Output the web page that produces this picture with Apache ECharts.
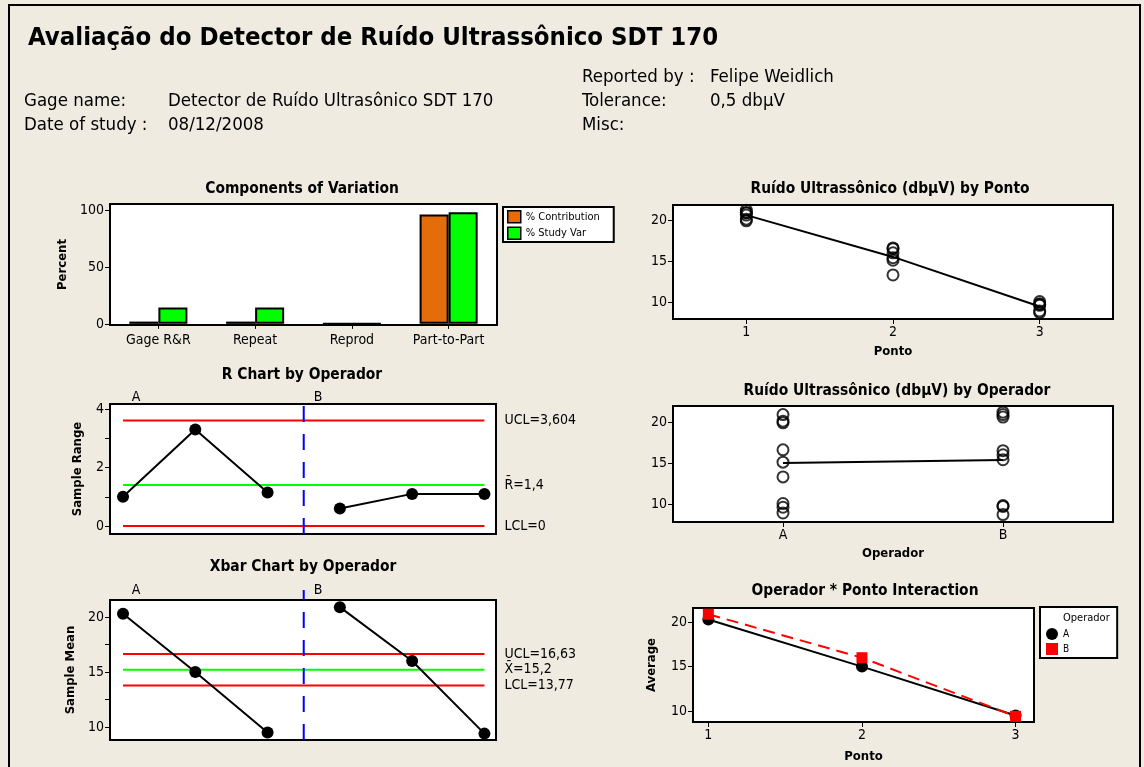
<!DOCTYPE html>
<html>
<head>
<meta charset="utf-8">
<title>Gage R&amp;R - SDT 170</title>
<script src="https://cdn.jsdelivr.net/npm/echarts@6/dist/echarts.min.js"></script>
<style>
  html, body { margin: 0; padding: 0; background: #efebe1; }
  #chart { width: 1144px; height: 767px; }
</style>
</head>
<body>
<div id="chart"></div>
<script>
// Components of Variation
const components = ['Gage R&R', 'Repeat', 'Reprod', 'Part-to-Part']
const pctContribution = [2.0, 2.0, 0, 96]
const pctStudyVar = [14.3, 14.3, 0, 98]

// R / Xbar charts: subgroups 1-3 = operador A, 4-6 = operador B
const samplesA = [1, 2, 3]
const samplesB = [4, 5, 6]
const rangeA = [1.0, 3.3, 1.15]
const rangeB = [0.6, 1.1, 1.1]
const meanA = [20.3, 15.0, 9.5]
const meanB = [20.9, 16.0, 9.4]
const rUCL = 3.604
const rBar = 1.4
const rLCL = 0
const xUCL = 16.63
const xBar = 15.2
const xLCL = 13.77

// readings (3 trials) per ponto for each operador
const pontos = ['1', '2', '3']
const operadores = ['A', 'B']
const readA = [[19.9, 20.1, 20.9], [13.3, 15.1, 16.6], [8.9, 9.6, 10.05]]
const readB = [[20.6, 20.9, 21.2], [15.4, 16.0, 16.5], [8.7, 9.7, 9.8]]
const pontoMeans = [20.6, 15.5, 9.45]
const operadorMeans = [15.0, 15.35]

const FONT = "'DejaVu Sans Condensed', 'DejaVu Sans', sans-serif"
const fmt = v => String(v).replace('.', ',')

const chart = echarts.init(document.getElementById('chart'))

const tick = { show: true, inside: false, length: 5, lineStyle: { color: '#000', width: 1 } }
const label = { color: '#000', fontSize: 14, fontFamily: FONT, margin: 6 }
const axisName = { color: '#000', fontSize: 13, fontWeight: 'bold', fontFamily: FONT }

function valueY(gridIndex, min, max, ticks, labels, name, nameGap) {
  return {
    type: 'value', gridIndex, min, max,
    axisLine: { show: false },
    axisTick: Object.assign({ customValues: ticks }, tick),
    axisLabel: Object.assign({ customValues: labels }, label),
    splitLine: { show: false },
    name, nameLocation: 'middle', nameGap, nameTextStyle: axisName
  }
}

function hiddenX(gridIndex) {
  return { type: 'value', gridIndex, min: 0.82, max: 6.16, show: false }
}

function limitLine(xAxisIndex, yAxisIndex, value, color, text) {
  return {
    type: 'line', xAxisIndex, yAxisIndex, silent: true,
    data: [[1, value], [6, value]],
    symbol: 'none',
    lineStyle: { color, width: 2 },
    endLabel: { show: true, formatter: text, distance: 20, color: '#000', fontSize: 14, fontFamily: FONT }
  }
}

function separator(xAxisIndex, yAxisIndex, y0, y1) {
  return {
    type: 'line', xAxisIndex, yAxisIndex, silent: true, clip: false,
    data: [[3.5, y0], [3.5, y1]],
    symbol: 'none',
    lineStyle: { color: '#0000ff', width: 2, type: [16, 12] }
  }
}

function pointsLine(xAxisIndex, yAxisIndex, xs, ys) {
  return {
    type: 'line', xAxisIndex, yAxisIndex,
    data: xs.map((x, i) => [x, ys[i]]),
    symbol: 'circle', symbolSize: 12,
    itemStyle: { color: '#000' },
    lineStyle: { color: '#000', width: 2 }
  }
}

const hollow = { color: 'rgba(0,0,0,0)', borderColor: '#000', borderWidth: 2 }

const pontoPoints = []
pontos.forEach((p, i) => {
  readA[i].concat(readB[i]).forEach(v => pontoPoints.push([i, v]))
})
const operadorPoints = []
;[readA, readB].forEach((reads, k) => {
  reads.forEach(r => r.forEach(v => operadorPoints.push([k, v])))
})

function text(x, y, str, font, align) {
  return {
    type: 'text', x, y, silent: true, z: 200,
    style: { text: str, font: font + ' ' + FONT, fill: '#000', align: align || 'left', verticalAlign: 'middle' }
  }
}

chart.setOption({
  animation: false,
  backgroundColor: '#efebe1',
  textStyle: { fontFamily: FONT },
  grid: [
    { left: 110, top: 204, width: 387, height: 121 },
    { left: 110, top: 404, width: 386, height: 130 },
    { left: 110, top: 600, width: 386, height: 140 },
    { left: 673, top: 205, width: 440, height: 114 },
    { left: 673, top: 406, width: 440, height: 116 },
    { left: 693, top: 608, width: 341, height: 114 }
  ].map(g => Object.assign({
    show: true, backgroundColor: '#fff', borderColor: '#000', borderWidth: 2,
    containLabel: false, outerBoundsMode: 'none'
  }, g)),
  xAxis: [
    {
      type: 'category', gridIndex: 0, data: components,
      axisLine: { show: false },
      axisTick: Object.assign({ alignWithLabel: true }, tick),
      axisLabel: Object.assign({}, label, { margin: 8 })
    },
    hiddenX(1),
    hiddenX(2),
    {
      type: 'category', gridIndex: 3, data: pontos, boundaryGap: true,
      axisLine: { show: false },
      axisTick: Object.assign({ alignWithLabel: true }, tick),
      axisLabel: label,
      name: 'Ponto', nameLocation: 'middle', nameGap: 26, nameTextStyle: axisName
    },
    {
      type: 'category', gridIndex: 4, data: operadores, boundaryGap: true,
      axisLine: { show: false },
      axisTick: Object.assign({ alignWithLabel: true }, tick),
      axisLabel: label,
      name: 'Operador', nameLocation: 'middle', nameGap: 25, nameTextStyle: axisName
    },
    {
      type: 'value', gridIndex: 5, min: 0.9, max: 3.12,
      axisLine: { show: false },
      axisTick: Object.assign({ customValues: [1, 2, 3] }, tick),
      axisLabel: Object.assign({ customValues: [1, 2, 3] }, label),
      splitLine: { show: false },
      name: 'Ponto', nameLocation: 'middle', nameGap: 28, nameTextStyle: axisName
    }
  ],
  yAxis: [
    valueY(0, -1, 105.3, [0, 50, 100], [0, 50, 100], 'Percent', 41),
    valueY(1, -0.27, 4.17, [0, 1, 2, 3, 4], [0, 2, 4], 'Sample Range', 26),
    valueY(2, 8.82, 21.55, [10, 12.5, 15, 17.5, 20], [10, 15, 20], 'Sample Mean', 33),
    valueY(3, 7.93, 21.83, [10, 15, 20], [10, 15, 20], '', 0),
    valueY(4, 7.8, 21.95, [10, 15, 20], [10, 15, 20], '', 0),
    valueY(5, 8.76, 21.6, [10, 15, 20], [10, 15, 20], 'Average', 35)
  ],
  legend: [
    {
      data: ['% Contribution', '% Study Var'],
      left: 503, top: 207, orient: 'vertical',
      icon: 'rect', itemWidth: 13, itemHeight: 12, itemGap: 3,
      itemStyle: { borderColor: '#000', borderWidth: 1.5 },
      textStyle: { fontSize: 11, color: '#000', fontFamily: FONT },
      padding: [3, 14, 2, 4],
      backgroundColor: '#fff', borderColor: '#000', borderWidth: 2,
      selectedMode: false
    },
    {
      data: [{ name: 'A', icon: 'circle' }, { name: 'B', icon: 'rect' }],
      left: 1040, top: 607, orient: 'vertical',
      itemWidth: 12, itemHeight: 12, itemGap: 3,
      textStyle: { fontSize: 10, color: '#000', fontFamily: FONT },
      padding: [21, 48, 3, 6],
      backgroundColor: '#fff', borderColor: '#000', borderWidth: 2,
      selectedMode: false
    }
  ],
  graphic: [
    { type: 'rect', silent: true, z: 100, shape: { x: 9, y: 5, width: 1131, height: 800 },
      style: { fill: 'none', stroke: '#000', lineWidth: 2 } },
    text(28, 38, 'Avaliação do Detector de Ruído Ultrassônico SDT 170', 'bold 25.5px'),
    text(582, 77, 'Reported by :', '18.5px'),
    text(710, 77, 'Felipe Weidlich', '18.5px'),
    text(24, 101, 'Gage name:', '18.5px'),
    text(168, 101, 'Detector de Ruído Ultrasônico SDT 170', '18.5px'),
    text(582, 101, 'Tolerance:', '18.5px'),
    text(710, 101, '0,5 dbµV', '18.5px'),
    text(24, 125, 'Date of study :', '18.5px'),
    text(168, 125, '08/12/2008', '18.5px'),
    text(582, 125, 'Misc:', '18.5px'),
    text(302, 189, 'Components of Variation', 'bold 15.4px', 'center'),
    text(302, 375, 'R Chart by Operador', 'bold 15.4px', 'center'),
    text(303, 567, 'Xbar Chart by Operador', 'bold 15.4px', 'center'),
    text(890, 189, 'Ruído Ultrassônico (dbµV) by Ponto', 'bold 15.4px', 'center'),
    text(897, 391, 'Ruído Ultrassônico (dbµV) by Operador', 'bold 15.4px', 'center'),
    text(865, 591, 'Operador * Ponto Interaction', 'bold 15.4px', 'center'),
    text(136, 397, 'A', '14px', 'center'),
    text(318, 397, 'B', '14px', 'center'),
    text(136, 590, 'A', '14px', 'center'),
    text(318, 590, 'B', '14px', 'center'),
    text(1063, 618, 'Operador', '11px')
  ],
  series: [
    {
      name: '% Contribution', type: 'bar', xAxisIndex: 0, yAxisIndex: 0,
      data: pctContribution, barGap: '0%', barCategoryGap: '40%',
      itemStyle: { color: '#e46c0a', borderColor: '#000', borderWidth: 2 }
    },
    {
      name: '% Study Var', type: 'bar', xAxisIndex: 0, yAxisIndex: 0,
      data: pctStudyVar, barGap: '0%', barCategoryGap: '40%',
      itemStyle: { color: '#00ff00', borderColor: '#000', borderWidth: 2 }
    },
    // R chart
    limitLine(1, 1, rUCL, '#ff0000', 'UCL=' + fmt(rUCL)),
    limitLine(1, 1, rBar, '#00ff00', 'R\u0304=' + fmt(rBar)),
    limitLine(1, 1, rLCL, '#ff0000', 'LCL=' + fmt(rLCL)),
    separator(1, 1, -0.27, 4.47),
    pointsLine(1, 1, samplesA, rangeA),
    pointsLine(1, 1, samplesB, rangeB),
    // Xbar chart
    limitLine(2, 2, xUCL, '#ff0000', 'UCL=' + fmt(xUCL)),
    limitLine(2, 2, xBar, '#00ff00', 'X\u0304=' + fmt(xBar)),
    limitLine(2, 2, xLCL, '#ff0000', 'LCL=' + fmt(xLCL)),
    separator(2, 2, 8.82, 22.45),
    pointsLine(2, 2, samplesA, meanA),
    pointsLine(2, 2, samplesB, meanB),
    // by Ponto
    {
      type: 'scatter', xAxisIndex: 3, yAxisIndex: 3, data: pontoPoints,
      symbol: 'circle', symbolSize: 11, itemStyle: hollow
    },
    {
      type: 'line', xAxisIndex: 3, yAxisIndex: 3, data: pontoMeans,
      symbol: 'none', lineStyle: { color: '#000', width: 2 }
    },
    // by Operador
    {
      type: 'scatter', xAxisIndex: 4, yAxisIndex: 4, data: operadorPoints,
      symbol: 'circle', symbolSize: 11, itemStyle: hollow
    },
    {
      type: 'line', xAxisIndex: 4, yAxisIndex: 4, data: operadorMeans,
      symbol: 'none', lineStyle: { color: '#000', width: 2 }
    },
    // interaction
    {
      name: 'A', type: 'line', xAxisIndex: 5, yAxisIndex: 5,
      data: pontos.map((p, i) => [Number(p), meanA[i]]),
      symbol: 'circle', symbolSize: 12,
      itemStyle: { color: '#000' },
      lineStyle: { color: '#000', width: 2 }
    },
    {
      name: 'B', type: 'line', xAxisIndex: 5, yAxisIndex: 5,
      data: pontos.map((p, i) => [Number(p), meanB[i]]),
      symbol: 'rect', symbolSize: 11,
      itemStyle: { color: '#ff0000' },
      lineStyle: { color: '#ff0000', width: 2, type: [12, 7] }
    }
  ]
})
</script>
</body>
</html>
